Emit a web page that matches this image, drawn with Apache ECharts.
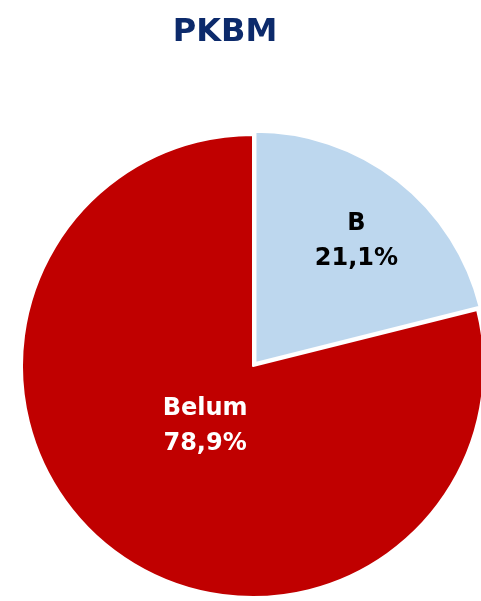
<!DOCTYPE html>
<html>
<head>
<meta charset="utf-8">
<script src="https://cdn.jsdelivr.net/npm/echarts@6/dist/echarts.min.js"></script>
<style>
  html, body { margin: 0; padding: 0; background: #fff; }
  .main { width: 481px; height: 601px; }
</style>
</head>
<body>
<div class="main" id="main"></div>
<script>
var names = ['B', 'Belum'];
var values = [21.1, 78.9];
var colors = ['#BDD7EE', '#C00000'];
var labelColors = ['#000000', '#ffffff'];
// nudges so labels sit where the reference puts them (left pad, spacer below)
var labelPadLeft = [56, 50];
var labelSpacer = [56, 66];

var pieData = [];
for (var i = 0; i < names.length; i++) {
  pieData.push({
    name: names[i],
    value: values[i],
    selected: i === 0,
    itemStyle: { color: colors[i] },
    label: {
      color: labelColors[i],
      padding: [0, 0, 0, labelPadLeft[i]],
      rich: { s: { height: labelSpacer[i], lineHeight: labelSpacer[i] } }
    }
  });
}

var myChart = echarts.init(document.getElementById('main'));
var option = {
  animation: false,
  title: {
    text: 'PKBM',
    left: 220,
    top: 12,
    textAlign: 'center',
    textStyle: {
      fontFamily: 'DejaVu Sans, sans-serif',
      fontSize: 32,
      fontWeight: 'bold',
      color: '#0C2A6B'
    }
  },
  series: [{
    type: 'pie',
    center: [253, 366],
    radius: [0, 231],
    startAngle: 90,
    clockwise: true,
    selectedMode: 'single',
    selectedOffset: 4,
    silent: true,
    itemStyle: { borderColor: '#ffffff', borderWidth: 2 },
    label: {
      show: true,
      position: 'inside',
      fontFamily: 'DejaVu Sans, sans-serif',
      fontSize: 24,
      fontWeight: 'bold',
      lineHeight: 35,
      formatter: function (p) {
        return p.name + '\n' + p.value.toFixed(1).replace('.', ',') + '%\n{s| }';
      }
    },
    labelLine: { show: false },
    data: pieData
  }]
};
myChart.setOption(option);
</script>
</body>
</html>
